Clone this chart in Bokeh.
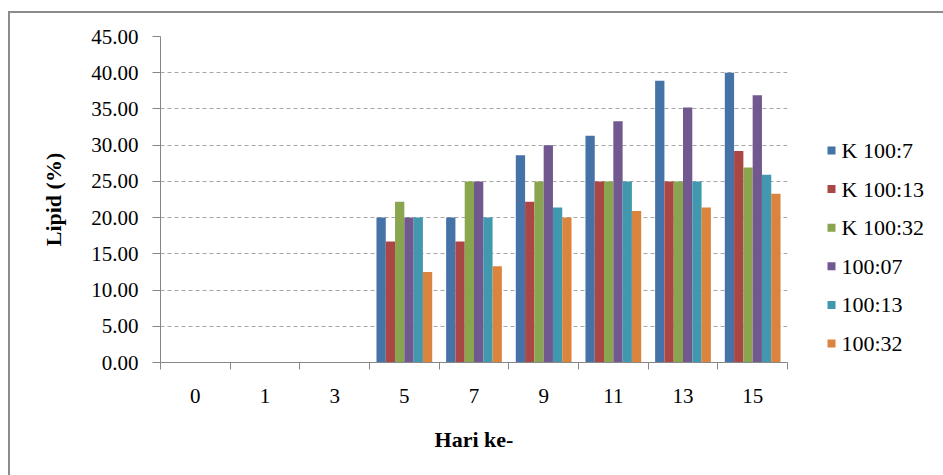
from bokeh.plotting import figure
from bokeh.layouts import row
from bokeh.models import Range1d, FixedTicker, NumeralTickFormatter, ColumnDataSource
from bokeh.embed import file_html
from bokeh.resources import INLINE

# Sampling days (category labels on the x axis)
days = ["0", "1", "3", "5", "7", "9", "11", "13", "15"]

# Lipid content (%) per treatment
k_100_7 = [0, 0, 0, 20.0, 20.0, 28.6, 31.3, 38.9, 40.0]
k_100_13 = [0, 0, 0, 16.7, 16.7, 22.2, 25.0, 25.0, 29.2]
k_100_32 = [0, 0, 0, 22.2, 25.0, 25.0, 25.0, 25.0, 26.9]
t_100_07 = [0, 0, 0, 20.0, 25.0, 30.0, 33.3, 35.2, 36.9]
t_100_13 = [0, 0, 0, 20.0, 20.0, 21.4, 25.0, 25.0, 25.9]
t_100_32 = [0, 0, 0, 12.5, 13.3, 20.0, 20.9, 21.4, 23.3]

series_names = ["K 100:7", "K 100:13", "K 100:32", "100:07", "100:13", "100:32"]
series_values = [k_100_7, k_100_13, k_100_32, t_100_07, t_100_13, t_100_32]
colors = ["#4572A7", "#AA4643", "#89A54E", "#71588F", "#4198AF", "#DB843D"]

y_ticks = [0, 5, 10, 15, 20, 25, 30, 35, 40, 45]

SERIF = "Liberation Serif, Times New Roman, serif"
AXIS_GREY = "#868686"
HEIGHT = 462
BORDER_TOP = 23
BORDER_BOTTOM = 113
FRAME_H = HEIGHT - BORDER_TOP - BORDER_BOTTOM

n_days = len(days)
n_series = len(series_names)
group_width = 0.8
bar_width = group_width / n_series
centers = [i + 0.5 for i in range(n_days)]

# ---- main bar chart ----
p = figure(width=785, height=HEIGHT,
           x_range=Range1d(0, n_days), y_range=Range1d(0, 45),
           output_backend="svg", toolbar_location=None,
           min_border_left=150, min_border_right=8,
           min_border_top=BORDER_TOP, min_border_bottom=BORDER_BOTTOM,
           background_fill_color="white", border_fill_color="white")
p.outline_line_color = None

for j, (name, vals, col) in enumerate(zip(series_names, series_values, colors)):
    offset = -group_width / 2 + bar_width * (j + 0.5)
    src = ColumnDataSource(dict(x=[c + offset for c in centers], top=vals))
    p.vbar(x="x", top="top", width=bar_width, bottom=0, source=src,
           fill_color=col, line_color=None)

# x axis: labels at category centres, tick marks at category boundaries
xa = p.xaxis[0]
xa.ticker = FixedTicker(ticks=centers, minor_ticks=list(range(n_days + 1)))
xa.major_label_overrides = {c: d for c, d in zip(centers, days)}
xa.major_tick_line_color = None
xa.major_tick_out = 0
xa.major_tick_in = 0
xa.minor_tick_line_color = AXIS_GREY
xa.minor_tick_out = 7
xa.minor_tick_in = 0
xa.axis_line_color = AXIS_GREY
xa.major_label_text_font = SERIF
xa.major_label_text_font_size = "21px"
xa.major_label_text_color = "black"
xa.major_label_standoff = 19
xa.axis_label = "Hari ke-"
xa.axis_label_text_font = SERIF
xa.axis_label_text_font_size = "22px"
xa.axis_label_text_font_style = "bold"
xa.axis_label_text_color = "black"
xa.axis_label_standoff = 21

ya = p.yaxis[0]
ya.ticker = FixedTicker(ticks=y_ticks)
ya.formatter = NumeralTickFormatter(format="0.00")
ya.major_tick_line_color = AXIS_GREY
ya.major_tick_out = 8
ya.major_tick_in = 0
ya.minor_tick_line_color = None
ya.axis_line_color = AXIS_GREY
ya.major_label_text_font = SERIF
ya.major_label_text_font_size = "21px"
ya.major_label_text_color = "black"
ya.major_label_standoff = 14
ya.axis_label = "Lipid (%)"
ya.axis_label_text_font = SERIF
ya.axis_label_text_font_size = "22px"
ya.axis_label_text_font_style = "bold"
ya.axis_label_text_color = "black"
ya.axis_label_standoff = 22

p.xgrid.visible = False
p.ygrid.grid_line_color = "#a6a6a6"
p.ygrid.grid_line_dash = "4 3"

# ---- legend panel: one row per series, listed top to bottom ----
leg_width = 148
row_px = 38.6
first_row_px = 114
y_top = -first_row_px / row_px
y_bottom = y_top + FRAME_H / row_px
leg = figure(width=leg_width, height=HEIGHT,
             x_range=Range1d(0, leg_width), y_range=Range1d(y_bottom, y_top),
             output_backend="svg", toolbar_location=None,
             x_axis_location=None, y_axis_location=None,
             min_border_left=0, min_border_right=0,
             min_border_top=BORDER_TOP, min_border_bottom=BORDER_BOTTOM,
             background_fill_color="white", border_fill_color="white")
leg.outline_line_color = None
leg.grid.visible = False

leg_src = ColumnDataSource(dict(idx=list(range(n_series)), name=series_names,
                                color=colors))
leg.scatter(x=36, y="idx", source=leg_src, marker="square", size=8,
            fill_color="color", line_color=None)
leg.text(x=46, y="idx", text="name", source=leg_src,
         text_font=SERIF, text_font_size="22px", text_color="black",
         text_baseline="middle", text_align="left")

layout = row(p, leg)
layout.margin = (11, 0, 0, 8)
layout.styles = {"border-left": "2px solid #8c8c8c",
                 "border-top": "2px solid #8c8c8c"}

open("out.html", "w").write(file_html(layout, INLINE))
